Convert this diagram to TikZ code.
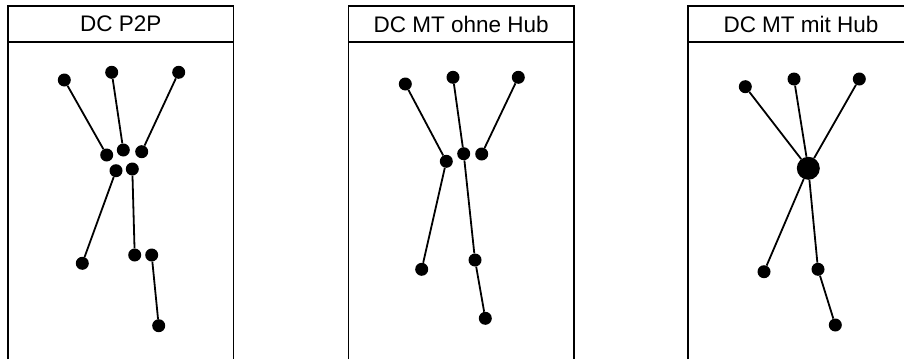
\documentclass[tikz,border=0pt]{standalone}
\usepackage{fontspec}
\setmainfont{Liberation Sans}
\usepackage{tikz}

\tikzset{
	dot/.style={circle, fill=black, inner sep=0pt, minimum size=13pt},
	hubdot/.style={circle, fill=black, inner sep=0pt, minimum size=23pt},
	link/.style={line width=1.8pt},
	frame/.style={line width=1.2pt},
	title/.style={font=\fontsize{22.5}{25}\selectfont}
}

\begin{document}
\begin{tikzpicture}[x=1pt, y=-1pt]
	\useasboundingbox (0,0) rectangle (904,359);
	% DC P2P
	\node[dot] (pa) at (64.3,80) {};
	\node[dot] (pb) at (111.7,72.3) {};
	\node[dot] (pc) at (178.7,72.3) {};
	\node[dot] (pd) at (106.7,155) {};
	\node[dot] (pe) at (123.3,150) {};
	\node[dot] (pf) at (141.7,151.7) {};
	\node[dot] (pg) at (116,170.7) {};
	\node[dot] (ph) at (132.3,169) {};
	\node[dot] (pi) at (82.3,263.3) {};
	\node[dot] (pj) at (134.7,255) {};
	\node[dot] (pk) at (151.7,255) {};
	\node[dot] (pl) at (158.7,325.7) {};
	%
	% DC MT ohne Hub
	\node[dot] (oa) at (405.3,84) {};
	\node[dot] (ob) at (453,77.3) {};
	\node[dot] (oc) at (518.3,77.3) {};
	\node[dot] (od) at (446.3,161.3) {};
	\node[dot] (oe) at (463.7,153.7) {};
	\node[dot] (of) at (481.7,154) {};
	\node[dot] (og) at (421.7,269.3) {};
	\node[dot] (oh) at (475,260) {};
	\node[dot] (oi) at (485.3,318.3) {};
	%
	% DC MT mit Hub
	\node[dot] (ma) at (745.3,86.7) {};
	\node[dot] (mb) at (794,79) {};
	\node[dot] (mc) at (859.3,79) {};
	\node[hubdot] (hub) at (808.3,168.3) {};
	\node[dot] (md) at (764,271.7) {};
	\node[dot] (me) at (818,269.3) {};
	\node[dot] (mf) at (835.3,325) {};
	% frames
	\draw[frame] (8,359) -- (8,6) -- (233.5,6) -- (233.5,359);
	\draw[frame] (8,42) -- (233.5,42);
	\draw[frame] (348.3,359) -- (348.3,6) -- (574,6) -- (574,359);
	\draw[frame] (348.3,42) -- (574,42);
	\draw[frame] (688,359) -- (688,6) -- (914,6) -- (914,359);
	\draw[frame] (688,42) -- (914,42);
	\node[title] (tp) at (120.7,24) {DC P2P};
	\node[title] (to) at (461.2,24) {DC MT ohne Hub};
	\node[title] (tm) at (801,24) {DC MT mit Hub};
	% links
	\draw[link] (pa) -- (pd);
	\draw[link] (pb) -- (pe);
	\draw[link] (pc) -- (pf);
	\draw[link] (pg) -- (pi);
	\draw[link] (ph) -- (pj);
	\draw[link] (pk) -- (pl);
	\draw[link] (oa) -- (od);
	\draw[link] (ob) -- (oe);
	\draw[link] (oc) -- (of);
	\draw[link] (od) -- (og);
	\draw[link] (oe) -- (oh);
	\draw[link] (oh) -- (oi);
	\draw[link] (ma) -- (hub);
	\draw[link] (mb) -- (hub);
	\draw[link] (mc) -- (hub);
	\draw[link] (hub) -- (md);
	\draw[link] (hub) -- (me);
	\draw[link] (me) -- (mf);
\end{tikzpicture}
\end{document}
